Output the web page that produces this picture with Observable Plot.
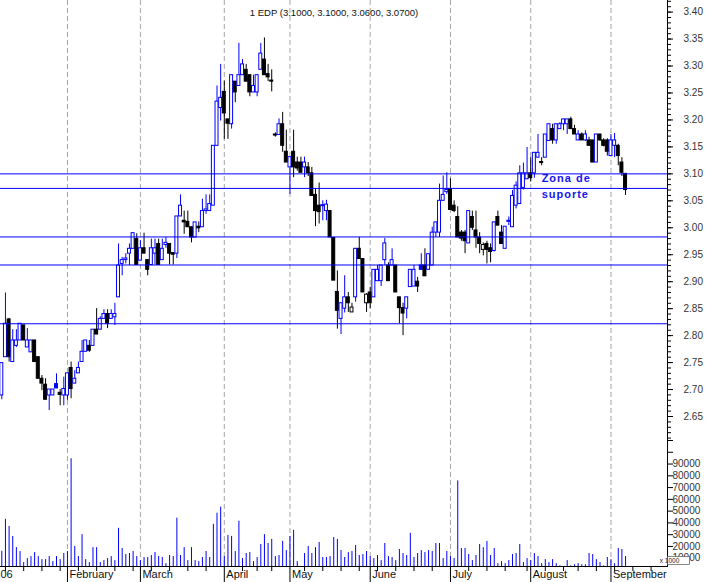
<!DOCTYPE html>
<html><head><meta charset="utf-8">
<script src="https://cdn.jsdelivr.net/npm/d3@7"></script>
<script src="https://cdn.jsdelivr.net/npm/@observablehq/plot@0.6"></script>
<style>
html,body{margin:0;padding:0;background:#fff;}
#chart{position:relative;width:707px;height:582px;overflow:hidden;background:#fff;}
#chart svg{position:absolute;left:0;top:0;}
</style></head><body><div id="chart"></div>
<script>
const title = "1 EDP (3.1000, 3.1000, 3.0600, 3.0700)";
const opens = [2.689,2.760,2.830,2.751,2.781,2.791,2.819,2.778,2.769,2.791,
2.760,2.720,2.709,2.689,2.689,2.710,2.694,2.689,2.689,2.740,
2.711,2.730,2.751,2.770,2.781,2.781,2.811,2.811,2.831,2.840,
2.831,2.834,2.871,2.933,2.940,2.952,2.961,2.979,2.939,2.962,
2.940,2.931,2.952,2.970,2.940,2.968,2.970,2.953,2.952,3.021,
3.013,3.011,3.001,2.982,3.002,3.001,3.031,3.031,3.041,3.152,
3.222,3.252,3.201,3.192,3.271,3.263,3.283,3.293,3.283,3.251,
3.251,3.293,3.312,3.285,3.273,3.173,3.172,3.192,3.141,3.112,
3.141,3.121,3.121,3.112,3.112,3.101,3.061,3.041,3.040,3.031,
3.031,2.981,2.881,2.831,2.850,2.871,2.843,2.871,2.961,2.942,
2.860,2.880,2.871,2.901,2.901,2.940,2.930,2.930,2.930,2.871,
2.851,2.850,2.890,2.891,2.900,2.930,2.930,2.922,2.930,2.991,
2.991,3.050,3.066,3.072,3.041,3.020,2.991,2.991,2.971,3.020,
2.995,2.982,2.959,2.970,2.962,2.957,3.020,2.991,2.961,3.011,
3.001,3.041,3.044,3.074,3.090,3.101,3.101,3.130,3.122,3.130,
3.161,3.183,3.162,3.183,3.192,3.192,3.201,3.183,3.162,3.173,
3.162,3.162,3.162,3.121,3.173,3.162,3.162,3.133,3.152,3.152,
3.121,3.100];
const highs = [2.750,2.879,2.832,2.811,2.811,2.822,2.819,2.813,2.791,2.791,
2.760,2.726,2.720,2.700,2.700,2.729,2.700,2.723,2.730,2.751,
2.735,2.751,2.791,2.791,2.791,2.811,2.850,2.835,2.848,2.848,
2.848,2.860,2.970,2.945,2.952,2.970,2.990,2.989,2.976,2.990,
2.940,2.979,2.979,2.979,2.979,2.982,2.970,2.953,3.021,3.061,
3.031,3.031,3.001,3.010,3.011,3.053,3.061,3.061,3.152,3.263,
3.303,3.272,3.201,3.283,3.271,3.342,3.312,3.303,3.283,3.283,
3.283,3.342,3.352,3.303,3.293,3.176,3.202,3.214,3.181,3.131,
3.181,3.131,3.131,3.131,3.121,3.112,3.072,3.083,3.050,3.051,
3.031,2.981,2.920,2.860,2.911,2.880,2.860,2.961,2.982,2.942,
2.878,2.890,2.922,2.930,2.930,2.980,2.935,2.961,2.930,2.871,
2.860,2.871,2.922,2.930,2.908,2.952,2.961,2.951,3.001,3.010,
3.081,3.096,3.102,3.091,3.050,3.039,2.995,2.995,3.031,3.031,
3.031,2.991,2.972,2.975,2.970,3.010,3.031,3.004,3.002,3.020,
3.069,3.085,3.115,3.120,3.149,3.130,3.139,3.173,3.130,3.173,
3.192,3.192,3.192,3.195,3.201,3.201,3.205,3.190,3.180,3.176,
3.180,3.168,3.162,3.173,3.173,3.165,3.165,3.173,3.175,3.155,
3.130,3.100];
const lows = [2.681,2.760,2.751,2.751,2.778,2.791,2.791,2.778,2.769,2.751,
2.720,2.698,2.681,2.661,2.689,2.702,2.670,2.670,2.680,2.683,
2.711,2.730,2.751,2.770,2.769,2.781,2.802,2.811,2.831,2.813,
2.831,2.819,2.871,2.911,2.933,2.930,2.961,2.931,2.939,2.952,
2.911,2.931,2.931,2.931,2.940,2.962,2.931,2.931,2.943,3.021,
2.988,3.001,2.972,2.982,2.991,3.001,3.025,3.031,3.041,3.152,
3.198,3.164,3.164,3.183,3.232,3.263,3.283,3.271,3.243,3.251,
3.243,3.293,3.283,3.271,3.252,3.168,3.172,3.140,3.121,3.062,
3.093,3.105,3.102,3.093,3.095,3.059,3.002,3.007,3.013,3.013,
2.982,2.902,2.812,2.802,2.842,2.843,2.843,2.862,2.942,2.880,
2.843,2.850,2.871,2.901,2.891,2.930,2.901,2.930,2.880,2.822,
2.800,2.831,2.890,2.891,2.880,2.922,2.910,2.922,2.930,2.982,
2.982,3.050,3.062,3.033,3.028,2.982,2.975,2.952,2.971,2.995,
2.962,2.952,2.948,2.933,2.935,2.955,3.004,2.970,2.961,3.004,
3.001,3.035,3.044,3.070,3.090,3.085,3.092,3.130,3.115,3.130,
3.161,3.155,3.155,3.183,3.180,3.173,3.183,3.173,3.162,3.162,
3.160,3.152,3.121,3.121,3.160,3.150,3.133,3.133,3.130,3.115,
3.095,3.060];
const closes = [2.749,2.822,2.760,2.791,2.791,2.822,2.791,2.791,2.791,2.751,
2.720,2.711,2.681,2.700,2.700,2.702,2.690,2.701,2.730,2.701,
2.720,2.740,2.770,2.791,2.772,2.811,2.802,2.831,2.840,2.822,
2.840,2.840,2.930,2.940,2.943,2.961,2.990,2.931,2.962,2.952,
2.922,2.962,2.962,2.931,2.961,2.972,2.952,2.950,3.021,3.041,
3.010,3.001,2.982,3.010,2.999,3.031,3.034,3.044,3.152,3.234,
3.241,3.212,3.193,3.283,3.251,3.283,3.303,3.271,3.251,3.263,
3.283,3.323,3.283,3.279,3.271,3.171,3.192,3.152,3.121,3.131,
3.112,3.110,3.102,3.121,3.101,3.059,3.031,3.029,3.042,3.043,
2.982,2.902,2.846,2.860,2.871,2.860,2.852,2.961,2.942,2.880,
2.876,2.860,2.922,2.922,2.930,2.971,2.901,2.940,2.880,2.851,
2.841,2.871,2.922,2.922,2.891,2.922,2.910,2.951,2.991,3.010,
3.050,3.061,3.070,3.033,3.031,2.982,2.980,2.975,3.031,3.000,
2.982,2.970,2.968,2.959,2.955,3.010,3.004,2.970,3.002,3.013,
3.059,3.078,3.101,3.101,3.101,3.092,3.139,3.139,3.120,3.173,
3.192,3.162,3.192,3.192,3.201,3.201,3.183,3.173,3.173,3.162,
3.173,3.152,3.121,3.173,3.162,3.152,3.141,3.162,3.162,3.133,
3.102,3.070];
const volumes = [15900,43000,37000,28500,19000,15700,6300,9700,11400,14800,
11400,8800,8800,11400,7100,11400,8800,14000,15700,94500,
20000,11400,30000,8800,6300,19000,19000,6300,8000,9700,
11400,8000,35400,18300,13100,14000,15700,11400,8000,10600,
10600,12300,14800,11400,10600,5400,12300,11400,44000,12300,
19000,8000,19000,8000,7100,10600,15700,10600,38800,48200,
53400,11400,29400,28500,15700,41400,9700,14000,14800,7100,
10600,21700,30000,22500,26000,11400,12300,24300,16500,28500,
33700,7100,3000,14000,20000,14000,19000,23400,10600,10600,
11400,27600,26000,16500,10600,14800,15700,20800,12300,13100,
15700,11400,9700,12300,8000,22500,11400,10600,8000,17400,
14000,12300,31100,10600,14000,16500,14800,16500,15700,22500,
22500,9700,15700,11400,9700,75700,18300,18300,13100,8000,
12300,21700,19000,24300,12300,18300,5400,7100,5400,8000,
13100,14000,21700,6300,9700,8000,14000,11400,5400,8800,
6300,8800,5400,3500,2000,8000,3500,4400,5400,4400,
4400,14000,13100,8800,6300,3500,10600,8800,5400,18300,
17400,11400];
const monthStarts = [18,38,61,79,101,123,145,167];
const monthNames = ["February","March","April","May","June","July","August","September"];
const weekTicks = [1,6,11,16,21,26,31,36,41,46,51,56,66,70,74,83,88,93,98,103,108,113,118,128,133,138,144,149,154,158,163,168,173,178];
const supportLevels = [3.10,3.073,2.983,2.931,2.822];
const priceLabels = [2.65,2.70,2.75,2.80,2.85,2.90,2.95,3.00,3.05,3.10,3.15,3.20,3.25,3.30,3.35,3.40];
const volumeLabels = [10000,20000,30000,40000,50000,60000,70000,80000,90000];
const volumeExtraTicks = [100000,110000];
const zonaLabels = [{i:148, p:3.091, t:"Zona de"},{i:148, p:3.062, t:"suporte"}];

const BLUE = "#0000ff", BLACK = "#000000";
const candles = opens.map((o,i)=>{
  const c = closes[i], prev = i ? closes[i-1] : o;
  const color = c >= prev ? BLUE : BLACK;
  return {i, o, h: highs[i], l: lows[i], c, color, fill: c > o ? "#ffffff" : color};
});
const volData = volumes.map((v,i)=>({i, v}));
const priceMinor = d3.range(261, 343).map(d => d/100);

const X = {domain: [-0.356, 182.5], axis: null};
const common = {width: 707, height: 582, marginTop: 0, marginRight: 40, marginBottom: 16, marginLeft: 0};
const font = "'Liberation Sans', Arial, sans-serif";

const price = Plot.plot({
  ...common,
  style: {background: "white", fontFamily: font},
  x: X,
  y: {domain: [2.65, 3.40], range: [416, 11.6], axis: null, label: null},
  color: {type: "identity"},
  marks: [
    Plot.ruleX(monthStarts, {x: d => d, stroke: "#a6a6a6", strokeDasharray: "5,3"}),
    Plot.ruleX(candles, {x: "i", y1: "l", y2: "h", stroke: "color"}),
    Plot.rect(candles, {x1: d => d.i - 0.41, x2: d => d.i + 0.41, y1: "o", y2: "c", fill: "fill", stroke: "color", strokeWidth: 1}),
    Plot.ruleY(supportLevels, {y: d => d, stroke: BLUE}),
    Plot.frame({anchor: "right", stroke: BLACK}),
    Plot.axisY({anchor: "right", ticks: priceMinor, tickSize: 3, tickFormat: () => "", label: null}),
    Plot.axisY({anchor: "right", ticks: priceLabels, tickSize: 5, tickPadding: 11, tickFormat: d => d.toFixed(2), fontSize: 10, fill: "#333", label: null}),
    Plot.text([title], {frameAnchor: "top", dy: 9, fontSize: 9.5, fill: "#111", text: d => d}),
    Plot.text(zonaLabels, {x: "i", y: "p", text: "t", textAnchor: "start", fill: "#1414ee", fontWeight: "bold", fontSize: 11})
  ]
});

const vol = Plot.plot({
  ...common,
  style: {background: "transparent", fontFamily: font},
  x: X,
  y: {domain: [0, 110000], range: [569.5, 440], axis: null, label: null},
  marks: [
    Plot.ruleX(volData, {x: "i", y1: 0, y2: "v", stroke: BLUE, clip: true}),
    Plot.frame({anchor: "bottom", stroke: BLACK}),
    Plot.axisY({anchor: "right", ticks: volumeExtraTicks, tickSize: 5, tickFormat: () => "", label: null}),
    Plot.axisY({anchor: "right", ticks: volumeLabels, tickSize: 5, tickPadding: 0, tickFormat: d => String(d), fontSize: 10, fill: "#333", label: null}),
    Plot.axisX({anchor: "bottom", ticks: weekTicks, tickSize: 5, tickFormat: () => "", label: null}),
    Plot.axisX({anchor: "bottom", ticks: monthStarts, tickSize: 16, tickFormat: () => "", label: null}),
    Plot.text(monthNames, {x: monthStarts, text: d => d, frameAnchor: "bottom", dy: 11, dx: 2, textAnchor: "start", fontSize: 11, fill: "#111"}),
    Plot.text(["06"], {text: d => d, frameAnchor: "bottom-left", dy: 11, textAnchor: "start", fontSize: 11, fill: "#111"})
  ]
});

// small "x 1000" unit box drawn over the lowest volume label, as in the source chart
const sv = d3.select(vol);
const g = sv.append("g");
g.append("rect").attr("x", 667.5).attr("y", 556.5).attr("width", 22).attr("height", 8).attr("fill", "#fff").attr("stroke", "#555").attr("stroke-width", 0.7);
g.append("text").attr("x", 669.5).attr("y", 563).attr("font-size", 6.5).attr("font-family", font).attr("fill", "#222").text("x 1000");

// letter spacing on the annotation
d3.select(price).selectAll("text").filter(function(){ return this.textContent === "Zona de" || this.textContent === "suporte"; }).attr("letter-spacing", "1px");

const chart = document.getElementById("chart");
chart.appendChild(price);
chart.appendChild(vol);
</script>
</body></html>
